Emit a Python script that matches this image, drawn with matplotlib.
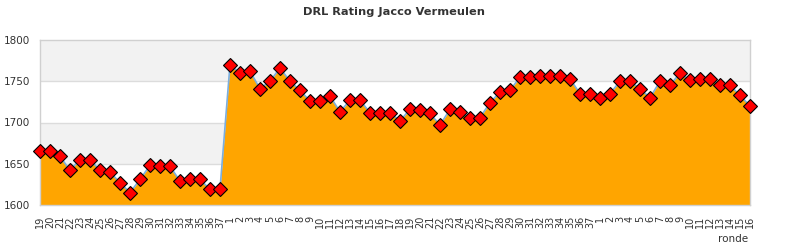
import matplotlib
matplotlib.use("Agg")
import matplotlib.pyplot as plt
import numpy as np

title = "DRL Rating Jacco Vermeulen"
x_label = "ronde"
rounds = [str(r) for r in list(range(19, 38)) + list(range(1, 38)) + list(range(1, 17))]
ratings = [
    1665, 1665, 1659, 1642, 1655, 1655, 1642, 1640, 1627, 1615,
    1631, 1648, 1647, 1647, 1629, 1631, 1631, 1619, 1619,
    1770, 1760, 1762, 1741, 1750, 1766, 1750, 1739, 1726, 1726,
    1732, 1713, 1727, 1727, 1712, 1712, 1712, 1702, 1716, 1715,
    1711, 1697, 1716, 1713, 1705, 1706, 1724, 1737, 1739, 1755,
    1755, 1756, 1756, 1756, 1753, 1735, 1735,
    1730, 1735, 1750, 1750, 1741, 1730, 1750, 1745, 1760, 1751,
    1753, 1753, 1745, 1745, 1733, 1720,
]
y_min, y_max = 1600, 1800
y_ticks = [1600, 1650, 1700, 1750, 1800]

fig = plt.figure(figsize=(7.9, 2.5), dpi=100)
ax = fig.add_axes([40 / 790, 1 - 205 / 250, 710 / 790, 165 / 250])
x = np.arange(len(ratings))

# alternating background bands
for i in range(len(y_ticks) - 1):
    lo, hi = y_ticks[i], y_ticks[i + 1]
    if i % 2 == 1:
        ax.axhspan(lo, hi, color="#f2f2f2", zorder=0, lw=0)
for t in y_ticks[1:-1]:
    ax.axhline(t, color="#dcdcdc", lw=1, zorder=0.5)

ax.fill_between(x, ratings, y_min, color="#ffa500", lw=0, zorder=1)
ax.plot(x, ratings, color="#7aaee0", lw=1.2, zorder=2)
ax.plot(x, ratings, linestyle="none", marker="D", markersize=7.2,
        markerfacecolor="#ff0000", markeredgecolor="#000000", markeredgewidth=0.8, zorder=3,
        clip_on=False)

ax.set_xlim(0, len(ratings) - 1)
ax.set_ylim(y_min, y_max)
ax.set_yticks(y_ticks)
ax.set_yticklabels([str(t) for t in y_ticks], fontsize=7.5, color="#333333")
ax.set_xticks(x)
ax.set_xticklabels(rounds, rotation=90, fontsize=7, color="#333333")
ax.tick_params(axis="both", length=0)
ax.tick_params(axis="y", pad=7)
ax.tick_params(axis="x", pad=8)
for s in ax.spines.values():
    s.set_color("#d0d0d0")
    s.set_linewidth(1)

fig.text(394 / 790, 1 - 12 / 250, title, ha="center", va="center", fontsize=8.2,
         fontweight="bold", color="#333333")
fig.text(748 / 790, 1 - 239 / 250, x_label, ha="right", va="center", fontsize=7.5,
         color="#333333")

fig.savefig("out.png", dpi=100)
